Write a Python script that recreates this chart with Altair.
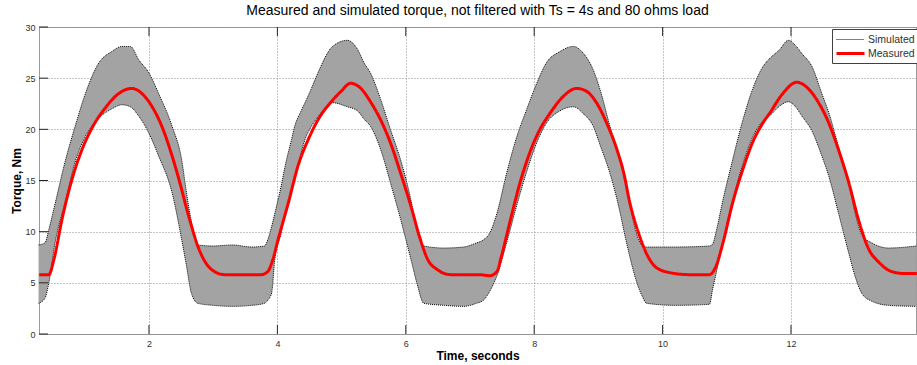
import altair as alt
import pandas as pd

# ---------------- data ----------------
env_t = [0.28, 0.38, 0.44, 0.54, 0.70, 0.85, 1.01, 1.22, 1.42, 1.58, 1.71, 1.84, 2.00, 2.15,
         2.36, 2.51, 2.58, 2.66, 2.76, 3.00, 3.30, 3.60, 3.80, 3.85, 3.91, 3.96, 4.06, 4.11,
         4.22, 4.27, 4.37, 4.43, 4.53, 4.63, 4.86, 5.09, 5.25, 5.35, 5.45, 5.61, 5.76, 5.92,
         6.08, 6.18, 6.28, 6.60, 6.90, 7.10, 7.21, 7.31, 7.42, 7.57, 7.73, 7.88, 8.04, 8.19,
         8.40, 8.61, 8.77, 8.92, 9.03, 9.18, 9.34, 9.40, 9.48, 9.59, 9.69, 9.75, 10.20, 10.73,
         10.78, 10.83, 10.94, 11.09, 11.25, 11.40, 11.56, 11.68, 11.81, 11.96, 12.07, 12.17,
         12.33, 12.48, 12.59, 12.74, 12.90, 13.00, 13.11, 13.26, 13.52, 13.95]
sim_upper = [8.7, 8.9, 10.2, 12.8, 17.0, 20.3, 23.5, 26.5, 27.6, 28.1, 28.1, 26.8, 25.5, 23.5,
             20.3, 17.0, 14.0, 11.0, 8.7, 8.6, 8.7, 8.5, 8.6, 9.2, 10.5, 11.8, 14.5, 16.1,
             19.0, 20.3, 21.8, 22.6, 24.0, 25.5, 28.1, 28.7, 27.8, 26.5, 25.5, 22.9, 20.0, 17.0,
             13.1, 9.9, 8.6, 8.4, 8.5, 8.9, 9.2, 9.9, 11.8, 15.7, 19.3, 21.9, 24.5, 26.5,
             27.6, 28.1, 27.4, 25.8, 23.8, 20.3, 17.0, 15.8, 13.1, 9.9, 8.6, 8.5, 8.5, 8.6,
             8.8, 9.9, 13.1, 17.0, 20.9, 23.9, 26.1, 27.0, 27.7, 28.7, 28.2, 27.4,
             26.1, 23.5, 21.6, 18.3, 14.8, 11.8, 9.6, 8.9, 8.4, 8.6]
sim_lower = [3.0, 3.5, 5.0, 9.0, 13.0, 16.8, 19.3, 21.1, 22.0, 22.4, 22.2, 21.3, 19.6, 17.4,
             13.8, 9.2, 6.8, 4.0, 3.0, 2.8, 2.7, 2.8, 3.0, 3.3, 4.0, 7.3, 9.9, 11.5,
             13.8, 15.0, 17.7, 19.0, 20.3, 21.2, 22.6, 22.2, 21.8, 21.0, 20.3, 18.0, 14.8, 11.2,
             7.3, 4.8, 3.0, 2.8, 2.7, 3.0, 3.3, 4.2, 5.7, 8.9, 12.6, 15.8, 18.7, 20.6,
             21.8, 22.2, 21.5, 20.3, 18.4, 15.7, 11.8, 10.0, 7.8, 5.2, 3.6, 3.0, 2.8, 2.9,
             4.4, 5.8, 9.0, 13.0, 16.6, 19.2, 20.8, 21.4, 22.2, 22.7, 22.2, 21.3,
             19.8, 17.4, 15.4, 11.8, 7.9, 5.6, 3.9, 3.2, 2.8, 2.7]

meas_t = [0.29, 0.44, 0.52, 0.645, 0.80, 0.955, 1.11, 1.32, 1.53, 1.73, 1.89, 2.05, 2.20, 2.36,
          2.51, 2.58, 2.66, 2.76, 2.87, 3.02, 3.18, 3.49, 3.75, 3.85, 3.93, 4.01, 4.17, 4.32,
          4.48, 4.63, 4.84, 4.99, 5.14, 5.30, 5.45, 5.61, 5.76, 5.92, 6.08, 6.21, 6.34, 6.49,
          6.70, 7.14, 7.31, 7.42, 7.49, 7.62, 7.78, 7.93, 8.09, 8.25, 8.45, 8.66, 8.82, 8.97,
          9.13, 9.29, 9.40, 9.48, 9.64, 9.77, 9.90, 10.11, 10.42, 10.73, 10.83, 10.94, 11.09,
          11.25, 11.40, 11.56, 11.67, 11.86, 12.09, 12.28, 12.43, 12.59, 12.74, 12.90, 13.05,
          13.21, 13.37, 13.57, 13.78, 13.96]
meas_y = [5.8, 5.8, 7.3, 11.2, 15.1, 18.0, 20.1, 22.1, 23.5, 24.0, 23.5, 22.2, 20.3, 17.4,
          14.1, 12.4, 10.6, 8.6, 7.1, 6.1, 5.8, 5.8, 5.8, 6.1, 7.3, 9.2, 12.8, 16.4,
          19.0, 20.9, 22.7, 23.7, 24.5, 24.0, 22.7, 20.9, 18.7, 15.7, 12.5, 9.6, 7.3, 6.3,
          5.8, 5.8, 5.7, 6.1, 7.6, 10.9, 14.8, 17.7, 20.0, 21.6, 23.2, 24.0, 23.7, 22.6,
          20.6, 18.0, 15.6, 13.1, 9.6, 7.6, 6.5, 6.0, 5.8, 5.8, 6.6, 8.9, 12.8,
          16.1, 18.7, 20.6, 21.6, 23.4, 24.6, 23.9, 22.6, 20.6, 18.0, 14.8, 11.2,
          8.3, 7.0, 6.1, 5.9, 5.9]

series_names = ["Simulated", "Measured"]
x_ticks = [2, 4, 6, 8, 10, 12]
y_ticks = [0, 5, 10, 15, 20, 25, 30]

title_text = "Measured and simulated torque, not filtered with Ts = 4s and 80 ohms load"
x_title = "Time, seconds"
y_title = "Torque, Nm"

# ---------------- layout ----------------
W, H = 877, 307
X_DOMAIN = [0.287, 13.947]
Y_DOMAIN = [0, 30]
FONT = "Liberation Sans"

band_df = pd.DataFrame({"t": env_t, "upper": sim_upper, "lower": sim_lower})
lines_df = pd.concat([
    pd.DataFrame({"t": env_t, "v": sim_upper, "series": series_names[0], "edge": "upper"}),
    pd.DataFrame({"t": env_t, "v": sim_lower, "series": series_names[0], "edge": "lower"}),
    pd.DataFrame({"t": meas_t, "v": meas_y, "series": series_names[1], "edge": "meas"}),
], ignore_index=True)
xt_df = pd.DataFrame({"t": x_ticks})
yt_df = pd.DataFrame({"v": y_ticks})

x_enc = alt.X("t:Q", scale=alt.Scale(domain=X_DOMAIN, nice=False, zero=False),
              axis=alt.Axis(values=x_ticks, title=x_title, format="d"))
y_enc = alt.Y("v:Q", scale=alt.Scale(domain=Y_DOMAIN, nice=False),
              axis=alt.Axis(values=y_ticks, title=y_title, format="d"))

band = alt.Chart(band_df).mark_area(color="#a3a3a3", opacity=1, interpolate="monotone").encode(
    x=x_enc,
    y=alt.Y("upper:Q", scale=alt.Scale(domain=Y_DOMAIN, nice=False),
            axis=alt.Axis(values=y_ticks, title=y_title, format="d")),
    y2="lower:Q",
)

lines = alt.Chart(lines_df).mark_line(strokeCap="butt", interpolate="monotone").encode(
    x=x_enc,
    y=y_enc,
    detail="edge:N",
    color=alt.Color("series:N", scale=alt.Scale(domain=series_names, range=["#000000", "#ff0000"]),
                    legend=alt.Legend(title=None)),
    strokeDash=alt.StrokeDash("series:N", scale=alt.Scale(domain=series_names, range=[[1, 1], [1, 0]]),
                              legend=alt.Legend(title=None)),
    strokeWidth=alt.StrokeWidth("series:N", scale=alt.Scale(domain=series_names, range=[1, 3]),
                                legend=alt.Legend(title=None)),
    order=alt.Order("series:N", sort="descending"),
)

tick_col = "#262626"
xt_bottom = alt.Chart(xt_df).mark_rule(color=tick_col, strokeWidth=1).encode(
    x=x_enc, y=alt.value(H), y2=alt.value(H - 9))
xt_top = alt.Chart(xt_df).mark_rule(color=tick_col, strokeWidth=1).encode(
    x=x_enc, y=alt.value(0), y2=alt.value(9))
yt_left = alt.Chart(yt_df).mark_rule(color=tick_col, strokeWidth=1).encode(
    y=y_enc, x=alt.value(0), x2=alt.value(9))

chart = alt.layer(band, lines, xt_bottom, xt_top, yt_left).properties(
    width=W, height=H,
    title=alt.TitleParams(title_text, font=FONT, fontSize=14, fontWeight="normal",
                          color="#000000", anchor="middle", baseline="alphabetic",
                          frame="group", offset=9, dy=15),
    autosize=alt.AutoSizeParams(type="none"),
    padding={"left": 39, "top": 27, "right": 1, "bottom": 31},
).configure_view(
    stroke="#9a9a9a", strokeWidth=1
).configure_axis(
    grid=True, gridColor="#8a8a8a", gridDash=[1, 2], gridWidth=1,
    domain=False, ticks=False,
    labelFont=FONT, labelFontSize=9, labelColor="#303030",
    titleFont=FONT, titleFontSize=12, titleFontWeight="bold", titleColor="#000000",
).configure_axisX(
    labelPadding=5, titlePadding=2,
).configure_axisY(
    labelPadding=4, titlePadding=1,
).configure_legend(
    orient="none", legendX=793, legendY=2,
    fillColor="#ffffff", strokeColor="#404040", padding=3,
    symbolType="M-1,0H3", symbolSize=196, symbolStrokeColor="black",
    labelFont=FONT, labelFontSize=10.5, labelColor="#303030",
    rowPadding=0, labelOffset=16,
)

chart.save("out.html", embed_options={"renderer": "svg", "actions": False})
